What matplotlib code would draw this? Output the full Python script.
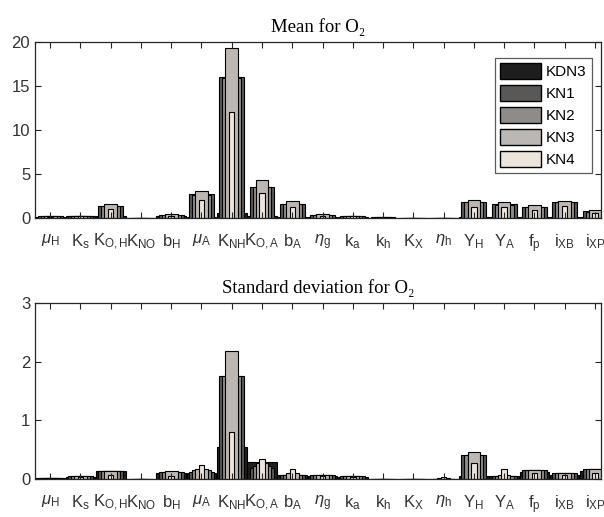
import numpy as np
import matplotlib.pyplot as plt
from matplotlib.patches import Patch

plt.rcParams['font.family'] = ['Liberation Sans', 'DejaVu Sans']
plt.rcParams['mathtext.fontset'] = 'custom'
plt.rcParams['mathtext.rm'] = 'Liberation Sans'
plt.rcParams['mathtext.it'] = 'Liberation Sans:italic'
plt.rcParams['mathtext.default'] = 'regular'

# parameters on the x axis
params = [r'$\mathit{\mu}_H$', r'$K_s$', r'$K_{O,H}$', r'$K_{NO}$', r'$b_H$',
          r'$\mathit{\mu}_A$', r'$K_{NH}$', r'$K_{O,A}$', r'$b_A$', r'$\mathit{\eta}_g$',
          r'$k_a$', r'$k_h$', r'$K_X$', r'$\mathit{\eta}_h$', r'$Y_H$', r'$Y_A$',
          r'$f_p$', r'$i_{XB}$', r'$i_{XP}$']
series = ['KDN3', 'KN1', 'KN2', 'KN3', 'KN4']

# mean
mean_KDN3 = [0.15, 0.25, 0.3, 0.0, 0.2, 0.1, 0.6, 0.2, 0.1, 0.1, 0.1, 0.05, 0.0, 0.0, 0.1, 0.1, 0.1, 0.1, 0.1]
mean_KN1  = [0.2, 0.3, 1.4, 0.0, 0.35, 2.7, 16.0, 3.55, 1.65, 0.4, 0.3, 0.1, 0.0, 0.0, 1.85, 1.6, 1.3, 1.85, 0.8]
mean_KN2  = [0.2, 0.3, 1.4, 0.0, 0.35, 2.6, 15.9, 3.5, 1.6, 0.35, 0.3, 0.08, 0.0, 0.0, 1.8, 1.55, 1.25, 1.8, 0.75]
mean_KN3  = [0.2, 0.3, 1.6, 0.0, 0.5, 3.05, 19.3, 4.3, 1.9, 0.45, 0.3, 0.08, 0.0, 0.0, 2.05, 1.85, 1.5, 2.0, 0.9]
mean_KN4  = [0.15, 0.25, 1.0, 0.0, 0.3, 2.05, 12.1, 2.8, 1.3, 0.3, 0.2, 0.05, 0.0, 0.0, 1.3, 1.3, 0.9, 1.4, 0.6]

# standard deviation
std_KDN3 = [0.02, 0.04, 0.14, 0.0, 0.1, 0.1, 0.55, 0.3, 0.07, 0.06, 0.04, 0.01, 0.0, 0.0, 0.05, 0.05, 0.12, 0.08, 0.14]
std_KN1  = [0.02, 0.05, 0.14, 0.0, 0.12, 0.13, 1.75, 0.2, 0.08, 0.08, 0.05, 0.01, 0.0, 0.0, 0.42, 0.05, 0.15, 0.1, 0.17]
std_KN2  = [0.02, 0.05, 0.14, 0.0, 0.12, 0.15, 1.75, 0.22, 0.08, 0.08, 0.05, 0.01, 0.0, 0.0, 0.42, 0.06, 0.15, 0.1, 0.17]
std_KN3  = [0.02, 0.05, 0.14, 0.0, 0.14, 0.18, 2.18, 0.27, 0.1, 0.08, 0.05, 0.01, 0.0, 0.02, 0.47, 0.08, 0.16, 0.1, 0.18]
std_KN4  = [0.02, 0.04, 0.08, 0.0, 0.06, 0.25, 0.8, 0.35, 0.18, 0.06, 0.04, 0.01, 0.0, 0.04, 0.27, 0.17, 0.1, 0.08, 0.1]

colors = ['#1e1e1e', '#5a5856', '#8f8b88', '#bcb7b2', '#ede4dc']
widths = [0.98, 0.82, 0.62, 0.42, 0.18]

fig = plt.figure(figsize=(6.04, 5.17), dpi=100)
ax1 = fig.add_axes([0.058, 0.578, 0.937, 0.341])
ax2 = fig.add_axes([0.058, 0.073, 0.937, 0.341])

x = np.arange(1, len(params) + 1)
panels = [(ax1, [mean_KDN3, mean_KN1, mean_KN2, mean_KN3, mean_KN4], 20, [0, 5, 10, 15, 20], 'Mean for O₂'),
          (ax2, [std_KDN3, std_KN1, std_KN2, std_KN3, std_KN4], 3, [0, 1, 2, 3], 'Standard deviation for O₂')]

for ax, data, ymax, yt, title in panels:
    # widest first, narrower bars drawn in front
    for vals, c, w in zip(data, colors, widths):
        ax.bar(x, vals, width=w, color=c, edgecolor='black', linewidth=0.8)
    ax.set_xlim(0.5, 19.2)
    ax.set_ylim(0, ymax)
    ax.set_yticks(yt)
    ax.set_xticks(x)
    ax.set_xticklabels(params)
    ax.tick_params(direction='in', length=4, top=True, right=True, colors='#262626',
                   labelcolor='#333333', labelsize=12)
    ax.tick_params(axis='x', pad=10, labelsize=12)
    for s in ax.spines.values():
        s.set_color('#262626')
        s.set_linewidth(0.9)
    ax.set_title(title, fontsize=13.5, family=['Liberation Serif', 'DejaVu Serif'], pad=7)

handles = [Patch(facecolor=c, edgecolor='black', linewidth=1.0) for c in colors]
leg = ax1.legend(handles, series, loc='upper right', bbox_to_anchor=(0.984, 0.91),
                 fontsize=11, handlelength=2.7, handleheight=1.2, labelspacing=0.4,
                 handletextpad=0.3, borderpad=0.35, fancybox=False, borderaxespad=0)
leg.get_frame().set_edgecolor('#333333')
leg.get_frame().set_linewidth(0.9)

plt.savefig('out.png', dpi=100)
